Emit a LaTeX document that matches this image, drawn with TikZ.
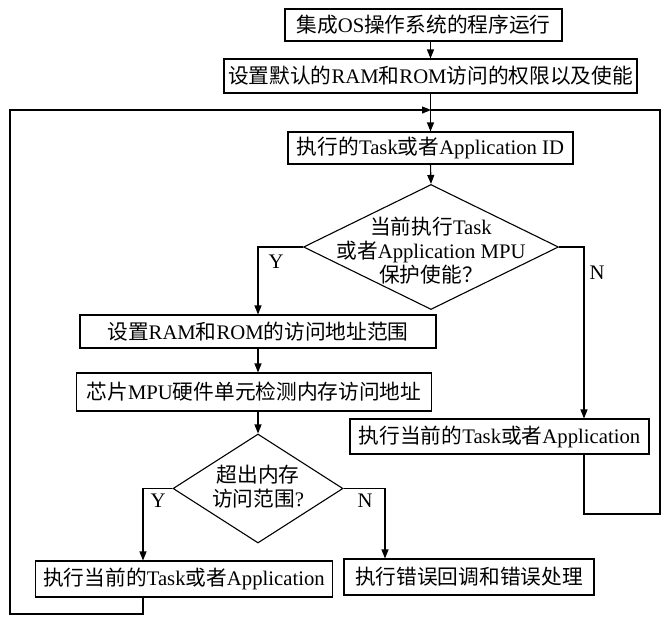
\documentclass[tikz,border=0pt]{standalone}
\usepackage{fontspec}
\setmainfont{Liberation Serif}
\newfontfamily\cjkf{Noto Sans CJK SC}
\newcommand\zh[1]{{\cjkf #1}}
\usetikzlibrary{arrows.meta,shapes.geometric,calc}
\tikzset{
  box/.style={draw, inner sep=0pt, font=\fontsize{20.7}{24}\selectfont},
  dia/.style={draw, diamond, inner sep=0pt},
  dtext/.style={align=center, inner sep=0pt, font=\fontsize{20.7}{24}\selectfont},
  lbl/.style={inner sep=0pt, font=\fontsize{20.7}{24}\selectfont},
  conn/.style={-{Triangle[length=9pt,width=7pt]}}
}
\begin{document}
\begin{tikzpicture}[x=1pt,y=-1pt,line width=1.1pt]
\useasboundingbox (0,0) rectangle (670,622);
\fill[white] (0,0) rectangle (670,622);

\node[box, minimum width=277pt, minimum height=32pt] (b1) at (423.5,25) {\zh{集成}OS\zh{操作系统的程序运行}};
\node[box, minimum width=413pt, minimum height=34pt] (b2) at (430.5,76) {\zh{设置默认的}RAM\zh{和}ROM\zh{访问的权限以及使能}};
\node[box, minimum width=285pt, minimum height=32pt] (b3) at (430.5,148) {\zh{执行的}Task\zh{或者}Application ID};
\node[dia, minimum width=255pt, minimum height=125pt] (d1) at (431,247) {};
\node[dtext] (t1) at (431,251) {\zh{当前执行}Task\\\zh{或者}Application MPU\\\zh{保护使能？}};
\node[box, minimum width=356pt, minimum height=33pt] (b4) at (258,331.5) {\zh{设置}RAM\zh{和}ROM\zh{的访问地址范围}};
\node[box, minimum width=355pt, minimum height=38pt] (b5) at (254,392) {\zh{芯片}MPU\zh{硬件单元检测内存访问地址}};
\node[dia, minimum width=170pt, minimum height=109pt] (d2) at (258,488.5) {};
\node[dtext] (t2) at (258,487) {\zh{超出内存}\\\zh{访问范围}?};
\node[box, minimum width=299pt, minimum height=35pt] (br) at (499.5,436.5) {\zh{执行当前的}Task\zh{或者}Application};
\node[box, minimum width=297pt, minimum height=36pt] (b6) at (184,579) {\zh{执行当前的}Task\zh{或者}Application};
\node[box, minimum width=250pt, minimum height=36pt] (b7) at (469,577) {\zh{执行错误回调和错误处理}};

\node[lbl] (y1) at (276,262) {Y};
\node[lbl] (n1) at (597,273) {N};
\node[lbl] (y2) at (158,501) {Y};
\node[lbl] (n2) at (365,501) {N};

\coordinate (yl) at (143,0);
\coordinate (nx2) at (385,0);
\coordinate (nx1) at (584,0);
\coordinate (lb) at (10,614);
\coordinate (rb) at (660,514);
\coordinate (jn) at (431,110);

\draw[conn] (b1.south -| b2.north) -- (b2.north);
\draw[conn] (b2.south) -- (b3.north);
\draw[conn] (b3.south) -- (d1.north);
\draw[conn] (d1.west) -| (b4.north);
\draw[conn] (d1.east) -| (nx1 |- br.north);
\draw[conn] (b4.south) -- (b4.south |- b5.north);
\draw[conn] (b5.south -| d2.north) -- (d2.north);
\draw[conn] (d2.west) -| (yl |- b6.north);
\draw[conn] (d2.east) -| (nx2 |- b7.north);
\draw[conn] (b6.south -| yl) |- (lb) |- (jn);
\draw (br.south -| nx1) |- (rb) |- (jn);
\end{tikzpicture}
\end{document}
